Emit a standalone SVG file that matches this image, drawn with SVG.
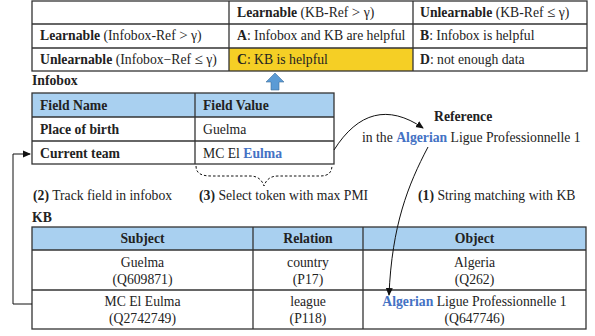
<svg xmlns="http://www.w3.org/2000/svg" width="595" height="336" viewBox="0 0 595 336" font-family="'Liberation Serif', 'DejaVu Serif', serif">
<defs>
<style>
text{font-family:"Liberation Serif","DejaVu Serif",serif;font-size:13.7px;fill:#222}
.b{font-weight:bold}
.blue{fill:#4472c4;font-weight:bold}
.c{text-anchor:middle}
.m{font-size:15px}
.grid{stroke:#333;stroke-width:1.3;fill:none}
.hdr{fill:#a9d0f0}
.conn{stroke:#111;stroke-width:1;fill:none}
</style>
<marker id="ah" markerWidth="8" markerHeight="8" refX="7" refY="4" orient="auto" markerUnits="userSpaceOnUse">
<path d="M0,0.5 L8,4 L0,7.5 Z" fill="#111"/>
</marker>
</defs>
<rect width="595" height="336" fill="#fff"/>

<g id="matrix">
<rect x="229" y="48" width="184" height="23" fill="#f5cf25"/>
<rect class="grid" x="32" y="1" width="555" height="70"/>
<line class="grid" x1="32" y1="24" x2="587" y2="24"/>
<line class="grid" x1="32" y1="48" x2="587" y2="48"/>
<line class="grid" x1="229" y1="1" x2="229" y2="71"/>
<line class="grid" x1="413" y1="1" x2="413" y2="71"/>
<text x="237" y="17"><tspan class="b">Learnable</tspan> (KB-Ref <tspan class="m">&gt;</tspan>  γ)</text>
<text x="420" y="17"><tspan class="b">Unlearnable</tspan> (KB-Ref <tspan class="m">≤</tspan>  γ)</text>
<text x="40" y="40"><tspan class="b">Learnable</tspan> (Infobox-Ref <tspan class="m">&gt;</tspan> γ)</text>
<text x="40" y="64"><tspan class="b">Unlearnable</tspan> (Infobox−Ref <tspan class="m">≤</tspan> γ)</text>
<text x="237" y="40"><tspan class="b">A</tspan>: Infobox and KB are helpful</text>
<text x="420" y="40"><tspan class="b">B</tspan>: Infobox is helpful</text>
<text x="237" y="64"><tspan class="b">C</tspan>: KB is helpful</text>
<text x="420" y="64"><tspan class="b">D</tspan>: not enough data</text>
</g>

<g id="up-arrow">
<path d="M275,73 L284,82 L279,82 L279,90 L271,90 L271,82 L266,82 Z" fill="#5b9bd5" stroke="#41719c" stroke-width="0.6"/>
</g>

<g id="infobox">
<text class="b" x="32" y="85">Infobox</text>
<rect class="hdr" x="32" y="93" width="302" height="24"/>
<rect class="grid" x="32" y="93" width="302" height="71"/>
<line class="grid" x1="32" y1="117" x2="334" y2="117"/>
<line class="grid" x1="32" y1="141" x2="334" y2="141"/>
<line class="grid" x1="195" y1="93" x2="195" y2="164"/>
<text class="b" x="40" y="110">Field Name</text>
<text class="b" x="203" y="110">Field Value</text>
<text class="b" x="40" y="134">Place of birth</text>
<text x="203" y="134">Guelma</text>
<text class="b" x="40" y="158">Current team</text>
<text x="203" y="158">MC El <tspan class="blue">Eulma</tspan></text>
</g>

<g id="reference">
<text class="b" x="434" y="121">Reference</text>
<text x="362" y="142">in the <tspan class="blue">Algerian</tspan>  Ligue Professionnelle 1</text>
</g>

<g id="labels">
<text x="33" y="200"><tspan class="b">(2)</tspan> Track field in infobox</text>
<text x="199" y="200"><tspan class="b">(3)</tspan> Select token with max PMI</text>
<text x="418" y="200"><tspan class="b">(1)</tspan> String matching with KB</text>
</g>

<g id="kb">
<text class="b" x="32" y="222">KB</text>
<rect class="hdr" x="32" y="227" width="554" height="23"/>
<rect class="grid" x="32" y="227" width="554" height="102"/>
<line class="grid" x1="32" y1="250" x2="586" y2="250"/>
<line class="grid" x1="32" y1="290" x2="586" y2="290"/>
<line class="grid" x1="253" y1="227" x2="253" y2="329"/>
<line class="grid" x1="363" y1="227" x2="363" y2="329"/>
<text class="b c" x="142.5" y="243">Subject</text>
<text class="b c" x="308" y="243">Relation</text>
<text class="b c" x="474.5" y="243">Object</text>
<text class="c" x="142.5" y="267">Guelma</text>
<text class="c" x="142.5" y="284">(Q609871)</text>
<text class="c" x="308" y="267">country</text>
<text class="c" x="308" y="284">(P17)</text>
<text class="c" x="474.5" y="267">Algeria</text>
<text class="c" x="474.5" y="284">(Q262)</text>
<text class="c" x="142.5" y="306">MC El Eulma</text>
<text class="c" x="142.5" y="323">(Q2742749)</text>
<text class="c" x="308" y="306">league</text>
<text class="c" x="308" y="323">(P118)</text>
<text class="c" x="474.5" y="306"><tspan class="blue">Algerian</tspan> Ligue Professionnelle 1</text>
<text class="c" x="474.5" y="323">(Q647746)</text>
</g>

<g id="connectors">
<path class="conn" d="M32,304 L13,304 L13,154 L30,154" marker-end="url(#ah)"/>
<path class="conn" d="M334,150 C358,112 388,104 423,128" marker-end="url(#ah)"/>
<path class="conn" d="M428,147 C408,185 392,225 389,295" marker-end="url(#ah)"/>
<path class="conn" stroke-dasharray="2.5,2" d="M196,166 C196,174 202,176 212,176 L250,176 C258,176 262,180 264,186 C266,180 270,176 278,176 L320,176 C328,176 332,173 332,165"/>
</g>
</svg>
